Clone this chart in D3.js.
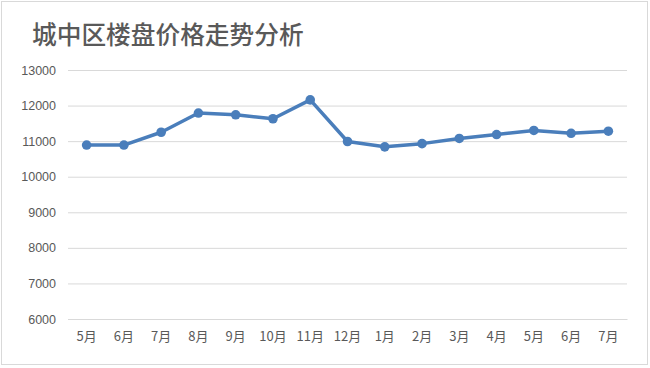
<!DOCTYPE html>
<html><head><meta charset="utf-8">
<script src="https://cdn.jsdelivr.net/npm/d3@7"></script>
<style>body{margin:0;background:#fff}svg{display:block}</style>
</head><body><svg id="c" width="650" height="368"></svg>
<script>
const categories = ["5月","6月","7月","8月","9月","10月","11月","12月","1月","2月","3月","4月","5月","6月","7月"];
const prices = [10890,10890,11250,11790,11740,11630,12160,10990,10840,10930,11075,11185,11300,11220,11280];
const yTicks = [6000,7000,8000,9000,10000,11000,12000,13000];
const title = "城中区楼盘价格走势分析";

const svg = d3.select("#c");
const W = 650, H = 368;
const m = {left:68, right:23, top:70, bottom:49};
svg.append("rect").attr("x",1.5).attr("y",1.5).attr("width",W-4).attr("height",H-5)
  .attr("fill","#fff").attr("stroke","#d9d9d9").attr("stroke-width",1);

svg.append("text").attr("x",32).attr("y",44).text(title)
  .attr("font-family","'Noto Sans CJK SC'").attr("font-size",24.7).attr("font-weight",500)
  .attr("fill","#595959");

const x = d3.scaleBand().domain(d3.range(categories.length)).range([m.left, W-m.right]);
const y = d3.scaleLinear().domain([6000,13000]).range([H-m.bottom, m.top]);

const yAxis = d3.axisLeft(y).tickValues(yTicks).tickSize(-(W-m.right-m.left)).tickPadding(12).tickFormat(d3.format("d"));
const gy = svg.append("g").attr("transform",`translate(${m.left},0)`).call(yAxis);
gy.select(".domain").remove();
gy.selectAll("line").attr("stroke","#d9d9d9").attr("stroke-width",1);
gy.selectAll("text").attr("font-family","'Liberation Sans',Arial").attr("font-size",12.5).attr("fill","#595959");

const xAxis = d3.axisBottom(x).tickFormat(i=>categories[i]).tickSize(0).tickPadding(13);
const gx = svg.append("g").attr("transform",`translate(0,${H-m.bottom})`).call(xAxis);
gx.select(".domain").attr("stroke","#d9d9d9");
gx.selectAll("text").attr("font-family","'Noto Sans CJK SC'").attr("font-size",13).attr("fill","#595959");

const cx = i => x(i) + x.bandwidth()/2;
const line = d3.line().x((d,i)=>cx(i)).y(d=>y(d));
svg.append("path").datum(prices).attr("d",line).attr("fill","none")
  .attr("stroke","#4a7ebb").attr("stroke-width",3.5).attr("stroke-linejoin","round");
svg.selectAll("circle.pt").data(prices).join("circle").attr("class","pt")
  .attr("cx",(d,i)=>cx(i)).attr("cy",d=>y(d)).attr("r",4.8).attr("fill","#4a7ebb");
</script></body></html>
